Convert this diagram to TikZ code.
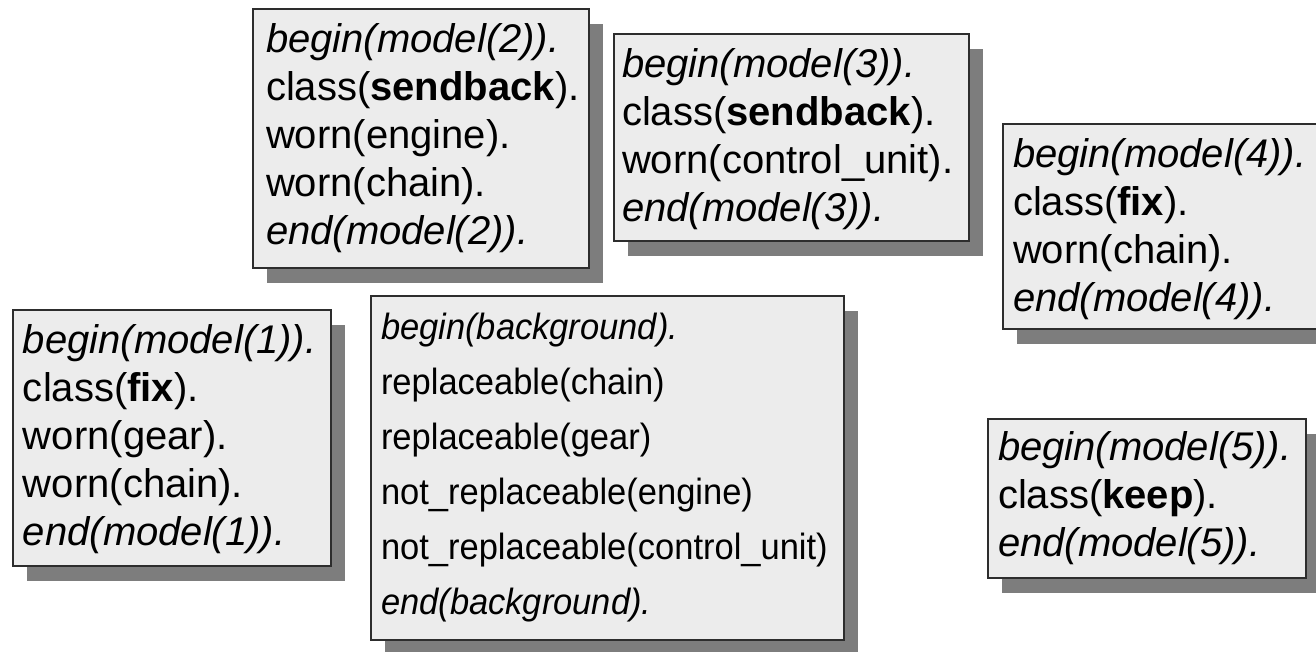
\documentclass[tikz,border=0pt]{standalone}
\usepackage{fontspec}
\setmainfont{Liberation Sans}
\newfontfamily\narrowfont{Liberation Sans}[FakeStretch=0.945]
\usetikzlibrary{shadows}
\definecolor{boxfill}{RGB}{236,236,236}
\definecolor{boxline}{RGB}{45,45,45}
\definecolor{shadowgray}{RGB}{125,125,125}
\newcommand\mylines[2]{\vtop{\baselineskip=#1\relax #2}}
\tikzset{
  mbox/.style={draw=boxline, line width=1.5pt, fill=boxfill, inner sep=0pt,
    anchor=north west,
    drop shadow={shadow xshift=14pt, shadow yshift=-15pt, fill=shadowgray, opacity=1}},
  mtext/.style={anchor=base west, inner sep=0pt, outer sep=0pt,
    font=\fontsize{40}{48}\selectfont},
  bgtext/.style={anchor=base west, inner sep=0pt, outer sep=0pt,
    font=\narrowfont\fontsize{36.5}{55}\selectfont}
}
\begin{document}
\begin{tikzpicture}[x=1pt,y=1pt]
\useasboundingbox (0,0) rectangle (1316,-651);
\fill[white] (0,0) rectangle (1316,-651);
\clip (0,0) rectangle (1316,-651);

% model 2
\node[mbox, minimum width=336pt, minimum height=259pt] (m2) at (252,-8) {};
\node[mtext] (t2) at (266,-52) {\mylines{48pt}{%
  \hbox{\textit{begin(model(2)).}}
  \hbox{class(\textbf{sendback}).}
  \hbox{worn(engine).}
  \hbox{worn(chain).}
  \hbox{\textit{end(model(2)).}}}};

% model 3
\node[mbox, minimum width=355pt, minimum height=207pt] (m3) at (613,-33) {};
\node[mtext] (t3) at (622,-77) {\mylines{48pt}{%
  \hbox{\textit{begin(model(3)).}}
  \hbox{class(\textbf{sendback}).}
  \hbox{worn(control\_unit).}
  \hbox{\textit{end(model(3)).}}}};

% model 4
\node[mbox, minimum width=340pt, minimum height=205pt] (m4) at (1002,-123) {};
\node[mtext] (t4) at (1013,-167) {\mylines{48pt}{%
  \hbox{\textit{begin(model(4)).}}
  \hbox{class(\textbf{fix}).}
  \hbox{worn(chain).}
  \hbox{\textit{end(model(4)).}}}};

% model 1
\node[mbox, minimum width=318pt, minimum height=256pt] (m1) at (12,-309) {};
\node[mtext] (t1) at (23,-353) {\mylines{48pt}{%
  \hbox{\textit{begin(model(1)).}}
  \hbox{class(\textbf{fix}).}
  \hbox{worn(gear).}
  \hbox{worn(chain).}
  \hbox{\textit{end(model(1)).}}}};

% background
\node[mbox, minimum width=473pt, minimum height=344pt] (bg) at (370,-295) {};
\node[bgtext] (tbg) at (381,-339) {\mylines{55pt}{%
  \hbox{\textit{begin(background).}}
  \hbox{replaceable(chain)}
  \hbox{replaceable(gear)}
  \hbox{not\_replaceable(engine)}
  \hbox{not\_replaceable(control\_unit)}
  \hbox{\textit{end(background).}}}};

% model 5
\node[mbox, minimum width=318pt, minimum height=159pt] (m5) at (987,-418) {};
\node[mtext] (t5) at (998,-460) {\mylines{48pt}{%
  \hbox{\textit{begin(model(5)).}}
  \hbox{class(\textbf{keep}).}
  \hbox{\textit{end(model(5)).}}}};
\end{tikzpicture}
\end{document}
